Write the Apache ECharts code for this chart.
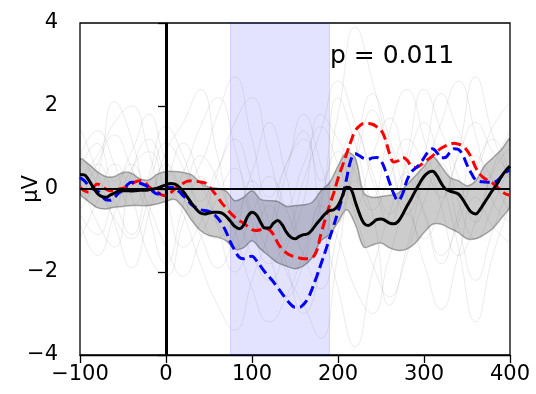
<!DOCTYPE html>
<html>
<head>
<meta charset="utf-8">
<script src="https://cdn.jsdelivr.net/npm/echarts@6/dist/echarts.min.js"></script>
<style>
  html, body { margin: 0; padding: 0; background: #fff; }
  #chart { width: 536px; height: 394px; }
</style>
</head>
<body>
<div id="chart"></div>
<script>
// time grid (ms), every 5 ms
const times = []
for (let t = -100; t <= 400; t += 5) times.push(t)

// grand average (black) and the two conditions (red / blue dashed)
const meanLine = [0.35,0.34,0.22,0.05,-0.1,-0.18,-0.2,-0.15,-0.1,-0.05,-0.04,-0.04,-0.05,-0.04,-0.03,-0.03,-0.02,0.0,0.02,0.06,
  0.1,0.13,0.12,0.05,-0.06,-0.2,-0.35,-0.48,-0.58,-0.6,-0.58,-0.56,-0.56,-0.58,-0.66,-0.78,-0.9,-0.96,-0.88,-0.66,
  -0.56,-0.62,-0.8,-0.94,-0.94,-0.82,-0.76,-0.86,-1.04,-1.16,-1.2,-1.14,-1.1,-1.08,-0.98,-0.84,-0.72,-0.6,-0.52,-0.5,
  -0.4,-0.18,0.04,0.0,-0.3,-0.6,-0.82,-0.88,-0.82,-0.74,-0.72,-0.76,-0.82,-0.84,-0.78,-0.62,-0.42,-0.24,-0.04,0.14,
  0.3,0.4,0.43,0.32,0.14,0.0,-0.05,-0.08,-0.12,-0.25,-0.42,-0.56,-0.6,-0.5,-0.34,-0.18,-0.02,0.12,0.3,0.44,0.55]
const blueLine = [0.28,0.2,0.08,0.0,-0.04,-0.14,-0.26,-0.27,-0.2,-0.1,-0.02,0.1,0.16,0.16,0.14,0.1,0.04,-0.06,-0.12,-0.08,
  0.0,0.04,0.02,-0.06,-0.16,-0.26,-0.38,-0.45,-0.5,-0.52,-0.54,-0.6,-0.7,-0.84,-1.04,-1.28,-1.48,-1.64,-1.68,-1.64,
  -1.62,-1.72,-1.86,-2.0,-2.12,-2.24,-2.38,-2.52,-2.66,-2.78,-2.85,-2.85,-2.78,-2.64,-2.4,-2.12,-1.82,-1.52,-1.2,-0.88,
  -0.55,-0.2,0.25,0.7,0.85,0.8,0.74,0.72,0.75,0.76,0.68,0.45,0.15,-0.12,-0.28,-0.12,0.2,0.4,0.5,0.6,
  0.75,0.9,0.97,0.88,0.75,0.76,0.88,0.97,0.95,0.82,0.58,0.38,0.22,0.18,0.17,0.16,0.16,0.2,0.3,0.4,0.45]
const redLine = [0.04,-0.04,-0.08,0.02,0.12,0.08,0.0,-0.04,-0.03,0.0,0.02,0.06,0.12,0.18,0.2,0.16,0.06,-0.04,-0.08,-0.14,
  -0.16,-0.1,0.0,0.07,0.14,0.19,0.2,0.19,0.17,0.15,0.06,-0.06,-0.2,-0.34,-0.46,-0.58,-0.68,-0.76,-0.82,-0.9,
  -0.98,-1.0,-0.98,-0.96,-0.98,-1.1,-1.3,-1.45,-1.54,-1.6,-1.63,-1.66,-1.68,-1.68,-1.66,-1.5,-1.1,-0.74,-0.4,-0.1,
  0.25,0.55,0.85,1.15,1.4,1.52,1.58,1.58,1.56,1.5,1.42,1.2,0.85,0.65,0.68,0.76,0.7,0.56,0.52,0.56,
  0.64,0.72,0.8,0.9,0.98,1.04,1.08,1.1,1.08,1.04,0.93,0.76,0.52,0.36,0.26,0.2,0.14,0.05,-0.05,-0.12,-0.15]

// error band around the average, every 10 ms
const bandTimes = []
for (let t = -100; t <= 400; t += 10) bandTimes.push(t)
const bandHigh = [0.72,0.6,0.42,0.3,0.3,0.4,0.38,0.24,0.22,0.36,0.42,0.42,0.4,0.34,0.15,0.04,0.02,-0.05,-0.28,-0.2,
  -0.04,-0.25,-0.28,-0.3,-0.42,-0.4,-0.38,-0.32,-0.05,0.15,0.55,0.88,0.75,-0.1,-0.2,-0.18,-0.15,-0.1,0.1,0.32,
  0.55,0.78,0.55,0.28,0.2,0.08,0.2,0.55,0.75,0.95,1.2]
const bandLow = [-0.1,-0.3,-0.45,-0.48,-0.44,-0.42,-0.4,-0.4,-0.4,-0.36,-0.3,-0.25,-0.45,-0.76,-1.0,-1.12,-1.16,-1.25,-1.45,-1.42,
  -1.25,-1.45,-1.62,-1.78,-1.86,-1.92,-1.85,-1.65,-1.25,-1.1,-0.8,-0.5,-0.85,-1.4,-1.35,-1.3,-1.42,-1.48,-1.45,-1.3,
  -1.05,-0.85,-0.85,-0.95,-1.05,-1.2,-1.2,-1.1,-0.95,-0.7,-0.4]

// single subjects (faint grey), every 20 ms
const subjTimes = []
for (let t = -100; t <= 400; t += 20) subjTimes.push(t)
const subjects = [
  [0.8,1.4,0.6,-0.4,0.2,1.1,0.5,-0.6,-1.2,-0.8,-1.6,-2.2,-1.4,-0.3,1.8,1.2,0.4,-0.5,0.3,1.2,0.6,-0.2,0.8,1.6,0.9,0.4],
  [-0.5,0.3,2.1,1.2,-0.6,-1.8,-0.4,0.8,0.2,-1.0,-2.4,-3.2,-2.6,-1.5,-0.2,0.9,-0.6,-1.8,-2.6,-1.4,0.2,1.0,-0.3,-1.2,-0.4,0.6],
  [1.5,0.4,-0.8,-1.9,-0.6,0.9,1.6,2.4,0.8,-0.6,0.4,1.6,0.3,-1.2,-0.4,2.2,1.1,-0.2,1.4,2.4,1.2,-0.4,-1.6,-0.8,0.5,1.4],
  [-1.2,-0.3,0.6,-0.2,-1.6,-2.1,-0.8,0.3,-0.9,-2.0,-1.2,-0.4,-1.8,-3.0,-1.9,0.4,1.4,0.2,-0.8,0.6,1.6,0.3,-1.4,-3.2,-1.6,-0.4],
  [0.2,-0.8,-1.4,0.4,1.2,0.3,-0.6,-1.8,-2.8,-3.4,-2.2,-1.0,0.6,1.2,-0.6,-2.4,-3.8,-2.0,-0.6,0.4,-0.5,-1.6,-0.8,0.5,1.2,0.2],
  [0.5,1.1,0.2,0.9,1.8,0.7,0.1,0.6,1.8,2.7,1.2,-0.2,0.6,1.4,0.2,1.8,3.9,2.6,0.9,-0.4,0.8,2.3,1.4,0.6,1.5,2.1],
  [-0.3,0.6,1.3,0.5,-0.4,0.2,1.1,0.2,-0.8,-1.4,-0.6,0.3,-0.5,-1.6,-2.4,-1.0,0.8,2.3,1.2,-0.2,-1.2,-0.4,0.9,2.7,1.3,0.2],
  [0.9,0.1,-0.7,-1.2,-0.3,0.6,-0.2,-1.1,-1.9,-1.1,0.2,-0.8,-2.0,-2.8,-3.6,-1.6,0.2,-0.6,-2.8,-1.6,-0.3,0.6,-0.9,-2.2,-1.0,0.1],
  [-0.8,-1.6,-0.6,0.5,0.9,-0.2,-1.4,-0.8,0.4,1.6,2.2,0.8,-0.4,0.6,1.5,0.6,-0.4,0.8,1.7,0.5,-0.6,-1.8,-0.6,0.8,0.2,-0.6],
  [0.3,0.8,1.6,2.0,0.9,-0.3,0.4,1.5,2.2,1.0,-0.8,-1.8,-1.2,0.2,1.4,2.6,1.6,0.4,-0.6,0.8,2.4,1.4,0.3,-0.8,0.4,1.0],
  [-0.6,-1.1,-0.2,0.6,-0.4,-1.4,-2.1,-1.2,-0.2,0.5,-0.6,-1.6,-2.6,-1.8,-0.4,-1.2,-2.4,-3.0,-1.6,-0.6,-1.8,-2.9,-1.6,-0.2,-0.9,-1.3],
  [0.1,0.6,-0.3,-1.1,0.3,1.5,0.8,-0.3,0.5,1.2,0.2,-0.9,0.4,1.8,0.6,-0.8,0.6,1.9,0.7,-0.6,0.4,1.6,2.6,1.3,-0.3,-0.8]
]

// significant window and annotation
const shadeStart = 75
const shadeEnd = 190
const pText = 'p = 0.011'

const pairs = (xs, ys) => xs.map((x, i) => [x, ys[i]])
const minus = v => String(v).replace('-', '\u2212')
const FONT = 'DejaVu Sans'

const series = []
subjects.forEach((s, k) => {
  series.push({
    name: 'subj' + k, type: 'line', data: pairs(subjTimes, s), smooth: 0.5,
    symbol: 'none', silent: true,
    lineStyle: { color: 'rgba(120,120,120,0.15)', width: 1 }
  })
})

// band polygon: upper edge forward, lower edge back
series.push({
  name: 'band', type: 'custom', silent: true, clip: true,
  data: [0],
  renderItem: (params, api) => {
    const top = bandTimes.map((t, i) => api.coord([t, bandHigh[i]]))
    const bot = bandTimes.map((t, i) => api.coord([t, bandLow[i]])).reverse()
    return {
      type: 'polygon',
      shape: { points: top.concat(bot), smooth: 0.35 },
      style: { fill: 'rgba(0,0,0,0.2)', stroke: 'rgba(0,0,0,0.3)', lineWidth: 1.5 }
    }
  },
  markArea: {
    silent: true,
    itemStyle: { color: 'rgba(0,0,255,0.11)', borderColor: 'rgba(0,0,255,0.15)', borderWidth: 1 },
    data: [[{ xAxis: shadeStart }, { xAxis: shadeEnd }]]
  }
})
series.push({
  name: 'zero', type: 'line', data: [], silent: true,
  markLine: {
    silent: true, symbol: 'none', label: { show: false },
    data: [
      { yAxis: 0, lineStyle: { color: '#000', width: 2.2, type: 'solid' } },
      { xAxis: 0, lineStyle: { color: '#000', width: 3, type: 'solid' } }
    ]
  }
})
series.push({
  name: 'red', type: 'line', data: pairs(times, redLine), smooth: 0.4, symbol: 'none',
  lineStyle: { color: '#ff0000', width: 3, type: [10, 5] }
})
series.push({
  name: 'blue', type: 'line', data: pairs(times, blueLine), smooth: 0.4, symbol: 'none',
  lineStyle: { color: '#0000ff', width: 3, type: [10, 5] }
})
series.push({
  name: 'mean', type: 'line', data: pairs(times, meanLine), smooth: 0.4, symbol: 'none',
  lineStyle: { color: '#000', width: 3 }
})

const myChart = echarts.init(document.getElementById('chart'))
myChart.setOption({
  animation: false,
  grid: {
    left: 80, right: 26, top: 23, bottom: 39,
    containLabel: false, outerBoundsMode: 'none',
    show: true, borderColor: '#000', borderWidth: 1.3
  },
  xAxis: {
    type: 'value', min: -100, max: 400, interval: 100,
    splitLine: { show: false },
    axisLine: { show: true, onZero: false, lineStyle: { color: '#000', width: 1.3 } },
    axisTick: { show: true, length: 8, lineStyle: { color: '#000', width: 1.3 } },
    axisLabel: { color: '#000', fontSize: 21, fontFamily: FONT, margin: 9, formatter: minus }
  },
  yAxis: {
    type: 'value', min: -4, max: 4, interval: 2,
    name: '\u03bcV', nameLocation: 'middle', nameGap: 38, nameRotate: 90,
    nameMoveOverlap: false,
    nameTextStyle: { color: '#000', fontSize: 21, fontFamily: FONT },
    splitLine: { show: false },
    axisLine: { show: true, lineStyle: { color: '#000', width: 1.3 } },
    axisTick: { show: true, length: 8, lineStyle: { color: '#000', width: 1.3 } },
    axisLabel: { color: '#000', fontSize: 21, fontFamily: FONT, margin: 22, formatter: minus }
  },
  graphic: [{
    type: 'text', left: 330, top: 44,
    style: { text: pText, fill: '#000', font: '25px "DejaVu Sans"' }
  }],
  series: series
})
</script>
</body>
</html>
